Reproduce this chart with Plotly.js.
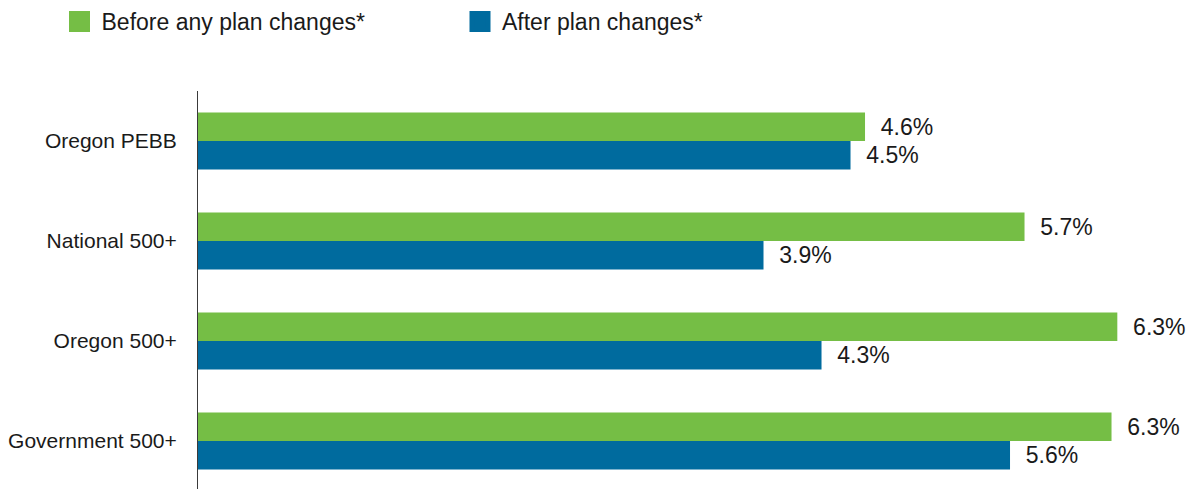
<!DOCTYPE html>
<html>
<head>
<meta charset="utf-8">
<script src="https://cdn.plot.ly/plotly-3.0.1.min.js"></script>
<style>
  html, body { margin: 0; padding: 0; background: #ffffff; }
  #chart { width: 1192px; height: 489px; }
</style>
</head>
<body>
<div id="chart"></div>
<script>
// ---- data ----
const categories = ["Oregon PEBB", "National 500+", "Oregon 500+", "Government 500+"];
const seriesNames = ["Before any plan changes*", "After plan changes*"];
const beforeValues = [4.6, 5.7, 6.34, 6.3];
const afterValues = [4.5, 3.9, 4.3, 5.6];
const beforeLabels = ["4.6%", "5.7%", "6.3%", "6.3%"];
const afterLabels = ["4.5%", "3.9%", "4.3%", "5.6%"];

// ---- styles ----
const GREEN = "#75be45";
const BLUE = "#006b9e";
const FONT = "Liberation Sans, Arial, sans-serif";
const pad = "\u00a0\u00a0";

const barCommon = {
  type: "bar",
  orientation: "h",
  y: categories,
  textposition: "outside",
  cliponaxis: false,
  constraintext: "none",
  textfont: { family: FONT, size: 23, color: "#1a1a1a" },
  hoverinfo: "skip",
  showlegend: false
};

const traces = [
  Object.assign({}, barCommon, {
    name: seriesNames[0],
    x: beforeValues,
    text: beforeLabels.map(t => pad + t),
    marker: { color: GREEN }
  }),
  Object.assign({}, barCommon, {
    name: seriesNames[1],
    x: afterValues,
    text: afterLabels.map(t => pad + t),
    marker: { color: BLUE }
  }),
  // legend entries
  { type: "scatter", mode: "markers", x: [null], y: [null], name: seriesNames[0],
    marker: { symbol: "square", size: 16, color: GREEN, line: { color: GREEN, width: 5 } },
    showlegend: true, hoverinfo: "skip" },
  { type: "scatter", mode: "markers", x: [null], y: [null], name: seriesNames[1],
    marker: { symbol: "square", size: 16, color: BLUE, line: { color: BLUE, width: 5 } },
    showlegend: true, hoverinfo: "skip" }
];

const layout = {
  width: 1192,
  height: 489,
  margin: { l: 198, r: 0, t: 91, b: 0 },
  paper_bgcolor: "#ffffff",
  plot_bgcolor: "#ffffff",
  font: { family: FONT, size: 21, color: "#1a1a1a" },
  barmode: "group",
  bargap: 0.43,
  bargroupgap: 0,
  xaxis: {
    range: [0, 6.855],
    showgrid: false,
    zeroline: false,
    showticklabels: false,
    showline: false,
    ticks: "",
    fixedrange: true
  },
  yaxis: {
    type: "category",
    range: [3.48, -0.5],
    showgrid: false,
    zeroline: false,
    showline: true,
    linecolor: "#3a3a3a",
    linewidth: 1,
    ticks: "outside",
    ticklen: 16,
    tickcolor: "rgba(0,0,0,0)",
    tickfont: { family: FONT, size: 21, color: "#1a1a1a" },
    fixedrange: true
  },
  showlegend: true,
  legend: {
    orientation: "h",
    xref: "container",
    yref: "container",
    x: 57.5 / 1192,
    xanchor: "left",
    y: 1,
    yanchor: "top",
    itemwidth: 34,
    entrywidth: 351.5,
    entrywidthmode: "pixels",
    font: { family: FONT, size: 23, color: "#1a1a1a" },
    bgcolor: "rgba(0,0,0,0)",
    borderwidth: 0,
    traceorder: "normal"
  }
};

Plotly.newPlot("chart", traces, layout, { displayModeBar: false, staticPlot: true });
</script>
</body>
</html>
